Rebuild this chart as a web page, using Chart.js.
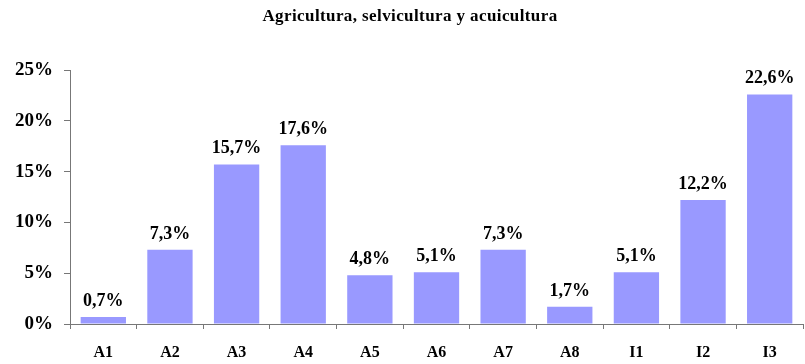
<!DOCTYPE html>
<html>
<head>
<meta charset="utf-8">
<script src="https://cdn.jsdelivr.net/npm/chart.js@4"></script>
<style>
  html, body { margin: 0; padding: 0; background: #fff; }
  #wrap { width: 805px; height: 364px; }
</style>
</head>
<body>
<div id="wrap"><canvas id="sectorChart" width="805" height="364"></canvas></div>
<script>
const chartTitle = 'Agricultura, selvicultura y acuicultura';
const categories = ['A1', 'A2', 'A3', 'A4', 'A5', 'A6', 'A7', 'A8', 'I1', 'I2', 'I3'];
const shares = [0.7, 7.3, 15.7, 17.6, 4.8, 5.1, 7.3, 1.7, 5.1, 12.2, 22.6];
const yTicks = [0, 5, 10, 15, 20, 25];

const serif = '"Liberation Serif", "Times New Roman", serif';
const axisColor = '#777';

// percent with comma decimals, e.g. 15,7%
function pct(v) {
  return v.toFixed(1).replace('.', ',') + '%';
}

// title and value labels drawn straight on the canvas
const labelPlugin = {
  id: 'barLabels',
  afterDatasetsDraw(chart) {
    const ctx = chart.ctx;
    ctx.save();
    ctx.fillStyle = '#000';
    ctx.textAlign = 'center';
    ctx.textBaseline = 'alphabetic';
    ctx.font = 'bold 18px ' + serif;
    chart.getDatasetMeta(0).data.forEach((bar, i) => {
      ctx.fillText(pct(shares[i]), bar.x, bar.y - 11);
    });
    ctx.font = 'bold 17px ' + serif;
    ctx.letterSpacing = '0.4px';
    ctx.fillText(chartTitle, 410, 21);
    ctx.restore();
  }
};

new Chart(document.getElementById('sectorChart'), {
  type: 'bar',
  data: {
    labels: categories,
    datasets: [{
      data: shares,
      backgroundColor: '#9999FF',
      borderWidth: 0,
      barPercentage: 0.68,
      categoryPercentage: 1
    }]
  },
  options: {
    responsive: false,
    animation: false,
    layout: { padding: { top: 70, right: 2, left: 0, bottom: 0 } },
    plugins: {
      legend: { display: false },
      title: { display: false },
      tooltip: { enabled: false }
    },
    scales: {
      y: {
        min: 0,
        max: 25,
        afterFit: s => { s.width = 70; },
        afterBuildTicks: s => { s.ticks = yTicks.map(v => ({ value: v })); },
        border: { display: true, color: axisColor, width: 1 },
        grid: { drawOnChartArea: false, tickLength: 6, color: axisColor },
        ticks: {
          color: '#000',
          padding: 11,
          font: { family: serif, size: 19, weight: 'bold' },
          callback: v => v + '%'
        }
      },
      x: {
        afterFit: s => { s.height = 40; },
        border: { display: true, color: axisColor, width: 1 },
        grid: { offset: true, drawOnChartArea: false, tickLength: 5, color: axisColor },
        ticks: {
          color: '#000',
          padding: 14,
          font: { family: serif, size: 16, weight: 'bold' }
        }
      }
    }
  },
  plugins: [labelPlugin]
});
</script>
</body>
</html>
